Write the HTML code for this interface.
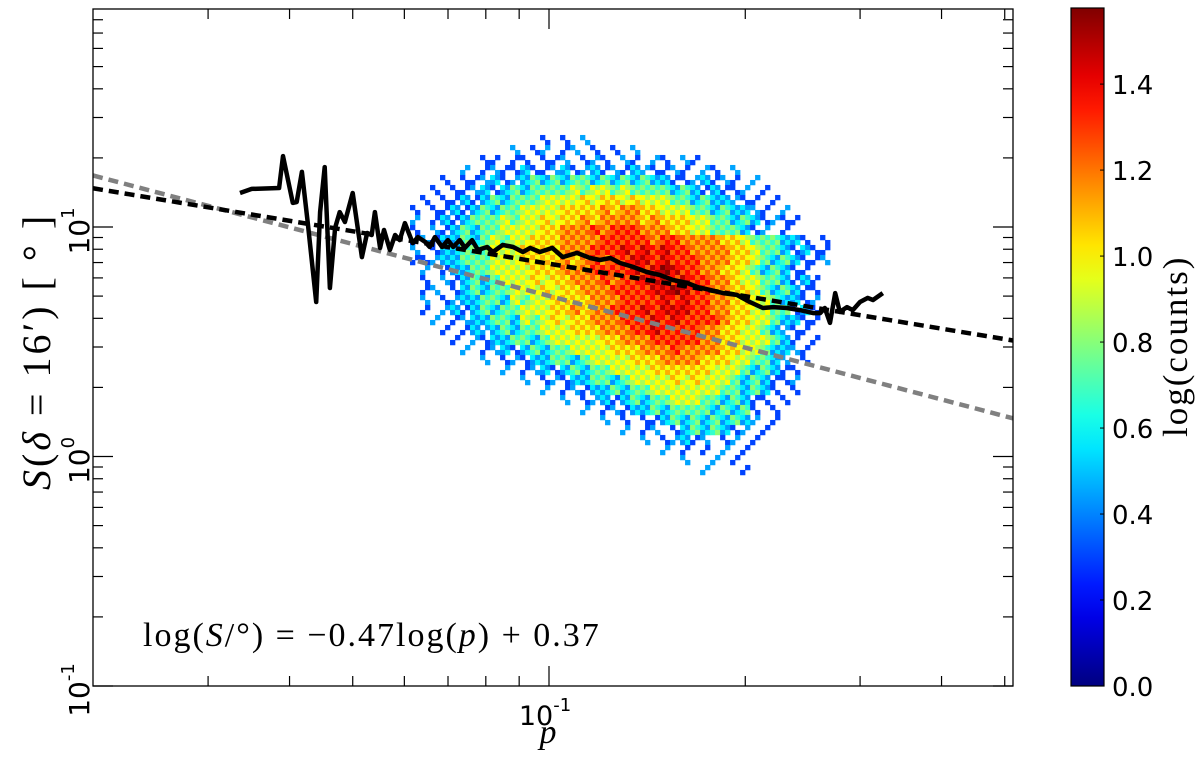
<!DOCTYPE html>
<html><head><meta charset="utf-8"><style>
html,body{margin:0;padding:0;background:#fff;}
svg{display:block;}
</style></head><body>
<svg id="chart" width="1200" height="759" viewBox="0 0 1200 759" xmlns="http://www.w3.org/2000/svg">
<defs>
<linearGradient id="jetgrad" x1="0" y1="1" x2="0" y2="0"></linearGradient>
</defs>
<g id="heat"></g>
<g id="lines"></g>
<g id="axes"></g>
<g id="cbar"></g>
<text x="143" y="646" font-family="Liberation Serif, serif" font-size="34" letter-spacing="2">log(<tspan font-style="italic">S</tspan>/°) = −0.47log(<tspan font-style="italic">p</tspan>) + 0.37</text>
<text x="548" y="743" text-anchor="middle" font-family="Liberation Serif, serif" font-style="italic" font-size="34">p</text>
<text transform="translate(50,490) rotate(-90)" font-family="Liberation Serif, serif" font-size="40" letter-spacing="3"><tspan font-style="italic">S</tspan>(<tspan font-style="italic">δ</tspan> = 16′)  [ ° ]</text>
<text transform="translate(1187,437) rotate(-90)" font-family="Liberation Serif, serif" font-size="35" letter-spacing="2">log(counts)</text>
</svg>
<script>
// ---- data ----
const curveLogP = [-1.474,-1.456,-1.414,-1.408,-1.393,-1.387,-1.379,-1.370,-1.357,-1.351,-1.344,-1.336,-1.328,-1.321,-1.313,-1.301,-1.287,-1.279,-1.272,-1.267,-1.259,-1.253,-1.244,-1.236,-1.229,-1.221,-1.209,-1.201,-1.190,-1.183,-1.175,-1.164,-1.155,-1.147,-1.137,-1.129,-1.118,-1.109,-1.095,-1.086,-1.071,-1.055,-1.040,-1.029,-1.014,-0.995,-0.979,-0.957,-0.937,-0.922,-0.906,-0.891,-0.871,-0.850,-0.830,-0.810,-0.788,-0.773,-0.753,-0.733,-0.712,-0.692,-0.672,-0.656,-0.635,-0.615,-0.595,-0.584,-0.577,-0.569,-0.561,-0.554,-0.543,-0.534,-0.523,-0.511,-0.503,-0.488];
const curveLogS = [1.148,1.166,1.170,1.309,1.105,1.109,1.240,1.017,0.673,1.065,1.261,0.734,0.996,1.065,1.022,1.148,0.869,0.974,0.965,1.065,0.909,0.987,0.900,0.965,0.943,1.017,0.930,0.956,0.935,0.913,0.956,0.913,0.943,0.913,0.943,0.909,0.943,0.900,0.913,0.891,0.922,0.913,0.891,0.909,0.891,0.909,0.869,0.887,0.865,0.856,0.865,0.843,0.826,0.804,0.791,0.769,0.756,0.739,0.726,0.712,0.704,0.673,0.647,0.651,0.647,0.638,0.625,0.625,0.647,0.582,0.712,0.630,0.651,0.638,0.673,0.691,0.682,0.712];
const fitBlack = [-0.47, 0.37];   // slope, intercept (log-log)
const fitGray = [-0.75, -0.05];
const levelValues = [0, 0.3, 0.5, 0.74, 0.92, 1.04, 1.17, 1.3, 1.42, 1.55];
const gridLogP0 = -1.2285, gridDLogP = 0.01534;
const gridLogS0 = 1.401, gridDLogS = 0.04357;
const grid = [
"00000000000000101010000000000000000000000000",
"00000000000101101101010100000000000000000000",
"00000000110110111011101101101100000000000000",
"00000010111121112112111211111011010000000000",
"00001011121123232332323232211121110100000000",
"00010111212323333434434333323212111010000000",
"00101121232333444454554544433232211101000000",
"01011212323344445555656655444332322110100000",
"01012123334344545565666656555443323211110000",
"01011232334444556667677766655443332110100000",
"01112232343445556666777776776666554333221010",
"01012233344455556667778787877666655433212110",
"01112233344455556567677887877766655432321110",
"00101223344445556667777878987766554323211000",
"00101123234445455666767788878776654433212100",
"00110123233444545566677778898776655432321100",
"00101122332434455556667777878776655443221100",
"00101212323344455656677787888776655443312100",
"00010112233243454556667778787777655443221100",
"00001012123233444555666778777766554432111000",
"00000101122332344444556667777766554443210100",
"00000010112123233444455566676666554432211000",
"00000000101112233234444555666655544332101000",
"00000000001011212323344445555554443232110000",
"00000000000010111223323444454544432321110000",
"00000000000000101112232334444444332321010000",
"00000000000000001011212323344433232110100000",
"00000000000000000010111223233332323101000000",
"00000000000000000000101011232323232101000000",
"00000000000000000000001011012323211010000000",
"00000000000000000000000010112110110100000000",
"00000000000000000000000000101010101000000000",
"00000000000000000000000000001001010000000000",
"00000000000000000000000000000010001000000000"
];
const xMajorTicks = [-1];
const xMinorTickVals = [0.03,0.04,0.05,0.06,0.07,0.08,0.09,0.2,0.3,0.4,0.5];
const yMajorTicks = [-1, 0, 1];
const cbarTicks = [0.0,0.2,0.4,0.6,0.8,1.0,1.2,1.4];
const cbarMax = 1.577;

// ---- axes functions ----
const L=93, R=1013, T=9, B=686;
const X = lp => 549 + (lp + 1) * 652;
const Y = ls => B - (ls + 1) * 229.5;
const NS='http://www.w3.org/2000/svg';
function mk(tag, attrs, parent){const e=document.createElementNS(NS,tag);for(const k in attrs)e.setAttribute(k,attrs[k]);parent.appendChild(e);return e;}
function jet(v){
  const t=Math.max(0,Math.min(1,v/cbarMax));
  const c=x=>Math.round(255*Math.max(0,Math.min(1,x)));
  return `rgb(${c(1.5-Math.abs(4*t-3))},${c(1.5-Math.abs(4*t-2))},${c(1.5-Math.abs(4*t-1))})`;
}

// heatmap: each grid cell drawn as 2x2 sub-bins with a fixed texture pattern
const heat=document.getElementById('heat');
const texOffset=[[0.07,-0.07],[-0.07,0.07]];
grid.forEach((row,r)=>{
  for(let c=0;c<row.length;c++){
    const lv=+row[c]; if(!lv) continue;
    for(let i=0;i<2;i++)for(let j=0;j<2;j++){
      let v=levelValues[lv]+texOffset[i][j];
      if(lv===1){ if((i+j+r+c)%2===1) continue; v=levelValues[1]+((r+c)%3===0?0.15:0); }
      const lp0=gridLogP0+(c+j/2)*gridDLogP, lp1=lp0+gridDLogP/2;
      const ls0=gridLogS0-(r+i/2)*gridDLogS, ls1=ls0-gridDLogS/2;
      const el=mk('rect',{x:X(lp0),y:Y(ls0),width:X(lp1)-X(lp0)+0.3,height:Y(ls1)-Y(ls0)+0.3,fill:jet(v)},heat);
      
      
    }
  }
});

// fit lines
const lines=document.getElementById('lines');
const lpL=(L-549)/652-1, lpR=(R-549)/652-1;
function fitLine(f,color,name){
  const el=mk('line',{x1:X(lpL),y1:Y(f[0]*lpL+f[1]),x2:X(lpR),y2:Y(f[0]*lpR+f[1]),stroke:color,'stroke-width':4.5,'stroke-dasharray':'10 6'},lines);
  
  
}
fitLine(fitGray,'#808080','gray-fit-line');
fitLine(fitBlack,'#000','black-fit-line');
const pts=curveLogP.map((lp,i)=>X(lp).toFixed(1)+','+Y(curveLogS[i]).toFixed(1)).join(' ');
const curve=mk('polyline',{points:pts,fill:'none',stroke:'#000','stroke-width':4.5,'stroke-linejoin':'round'},lines);



// axes
const ax=document.getElementById('axes');
const frame=mk('rect',{x:L,y:T,width:R-L,height:B-T,fill:'none',stroke:'#000','stroke-width':1.3},ax);


function tick(x1,y1,x2,y2){mk('line',{x1,y1,x2,y2,stroke:'#000','stroke-width':1.2},ax);}
xMajorTicks.forEach(lp=>{
  const x=X(lp); tick(x,B,x,B-20); tick(x,T,x,T+20);
  const t=mk('text',{x:x-4,y:725,'text-anchor':'middle','font-family':'DejaVu Sans, sans-serif','font-size':27},ax);
  
  
  t.innerHTML='10<tspan dy="-14" font-size="18">'+lp+'</tspan>';
});
xMinorTickVals.forEach(v=>{const x=X(Math.log10(v)); tick(x,B,x,B-10); tick(x,T,x,T+10);});
yMajorTicks.forEach(ls=>{
  const y=Y(ls); tick(L,y,L+20,y); tick(R,y,R-20,y);
  const t=mk('text',{transform:`translate(89,${y+4}) rotate(-90)`,'text-anchor':'middle','font-family':'DejaVu Sans, sans-serif','font-size':28},ax);
  
  
  t.innerHTML='10<tspan dy="-15" font-size="18">'+ls+'</tspan>';
  for(let k=2;k<=9;k++){const yy=Y(ls+Math.log10(k)); if(yy>T+1){tick(L,yy,L+10,yy); tick(R,yy,R-10,yy);}}
});

// colorbar
const grad=document.getElementById('jetgrad');
for(let i=0;i<=20;i++){mk('stop',{offset:i/20,'stop-color':jet(i/20*cbarMax)},grad);}
const cb=document.getElementById('cbar');
const CT=8, CB=686, CL=1071, CR=1104;
const cy=v=>CB-(v/cbarMax)*(CB-CT);
const cr=mk('rect',{x:CL,y:CT,width:CR-CL,height:CB-CT,fill:'url(#jetgrad)',stroke:'#000','stroke-width':1.2},cb);


cbarTicks.forEach(v=>{
  const y=cy(v);
  mk('line',{x1:CR,y1:y,x2:CR-4,y2:y,stroke:'#000','stroke-width':1},cb);
  const t=mk('text',{x:1112,y:y+10,'font-family':'DejaVu Sans, sans-serif','font-size':26},cb);
  
  
  t.textContent=v.toFixed(1);
});
</script>
</body></html>
